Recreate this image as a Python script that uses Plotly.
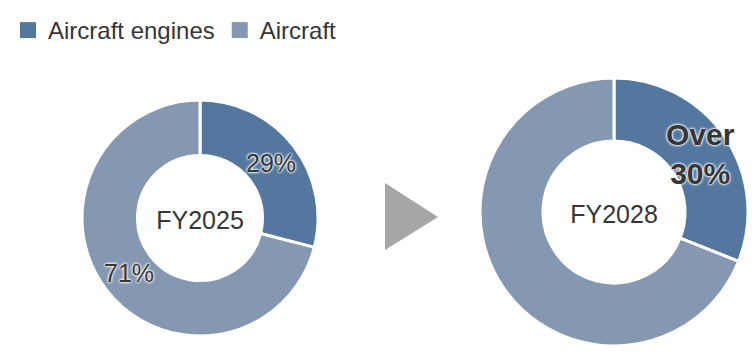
import math
import plotly.graph_objects as go

categories = ["Aircraft engines", "Aircraft"]
fy2025_values = [29, 71]
fy2028_values = [31, 69]
fy2025_text = ["29%", "71%"]
fy2028_text = ["<b>Over<br>30%</b>", ""]
years = ["FY2025", "FY2028"]
colors = ["#53779F", "#8598B1"]

# page body has an 8px margin; figure sized to fit the window
OFF = 8
W, H = 755 - OFF, 354 - OFF
FONT = "Liberation Sans, Arial, sans-serif"
TXT = "#363636"
shadow = "0px 0px 2px white, 0px 0px 3px white, 0px 0px 3px white"

def px(x):
    return (x - OFF) / W

def py(y):
    return 1 - (y - OFF) / H

def dom(x0, x1, y0, y1):
    return dict(x=[px(x0), px(x1)], y=[py(y1), py(y0)])

HOLE = 0.53
d1 = dom(82, 318, 100, 336)
d2 = dom(478, 750, 78, 346)

fig = go.Figure()
for vals, d, yr in [(fy2025_values, d1, years[0]), (fy2028_values, d2, years[1])]:
    fig.add_trace(go.Pie(
        labels=categories, values=vals, textinfo="none",
        sort=False, direction="clockwise", rotation=0, hole=HOLE,
        marker=dict(colors=colors, line=dict(color="white", width=3)),
        title=dict(text=yr, position="middle center", font=dict(family=FONT, size=25, color=TXT)),
        domain=d, showlegend=False, hoverinfo="label+value",
    ))

def slice_labels(vals, texts, d, size):
    """Place each slice's label at its mid-angle, halfway through the ring."""
    cx = (d["x"][0] + d["x"][1]) / 2 * W
    cy = (1 - (d["y"][0] + d["y"][1]) / 2) * H
    R = (d["x"][1] - d["x"][0]) * W / 2
    r_mid = R * (1 + HOLE) / 2
    total = sum(vals)
    start = 0.0
    for v, t in zip(vals, texts):
        mid = math.radians(360 * (start + v / 2) / total)
        start += v
        if not t:
            continue
        lx = cx + r_mid * math.sin(mid)
        ly = cy - r_mid * math.cos(mid)
        fig.add_annotation(x=lx / W, y=1 - ly / H, xref="paper", yref="paper",
                           xanchor="center", yanchor="middle",
                           text=t, showarrow=False, align="center",
                           font=dict(family=FONT, size=size, color=TXT, shadow=shadow))

slice_labels(fy2025_values, fy2025_text, d1, 25)
slice_labels(fy2028_values, fy2028_text, d2, 30)

# legend entries
for name, c in zip(categories, colors):
    fig.add_trace(go.Scatter(
        x=[None], y=[None], mode="markers", name=name,
        marker=dict(symbol="square", size=16, color=c), showlegend=True,
    ))

# arrow
fig.add_shape(type="path", xref="paper", yref="paper",
              path=f"M {px(385)},{py(183)} L {px(438)},{py(217)} L {px(385)},{py(250)} Z",
              fillcolor="#A6A6A6", line=dict(width=0))

fig.update_layout(
    width=W, height=H, margin=dict(l=0, r=0, t=0, b=0),
    paper_bgcolor="white", plot_bgcolor="white",
    font=dict(family=FONT, color=TXT),
    xaxis=dict(visible=False), yaxis=dict(visible=False),
    legend=dict(orientation="h", x=0, y=1, xanchor="left", yanchor="top",
                font=dict(family=FONT, size=24, color=TXT),
                itemwidth=30, tracegroupgap=0, bgcolor="rgba(0,0,0,0)"),
)
fig.write_html("out.html")
